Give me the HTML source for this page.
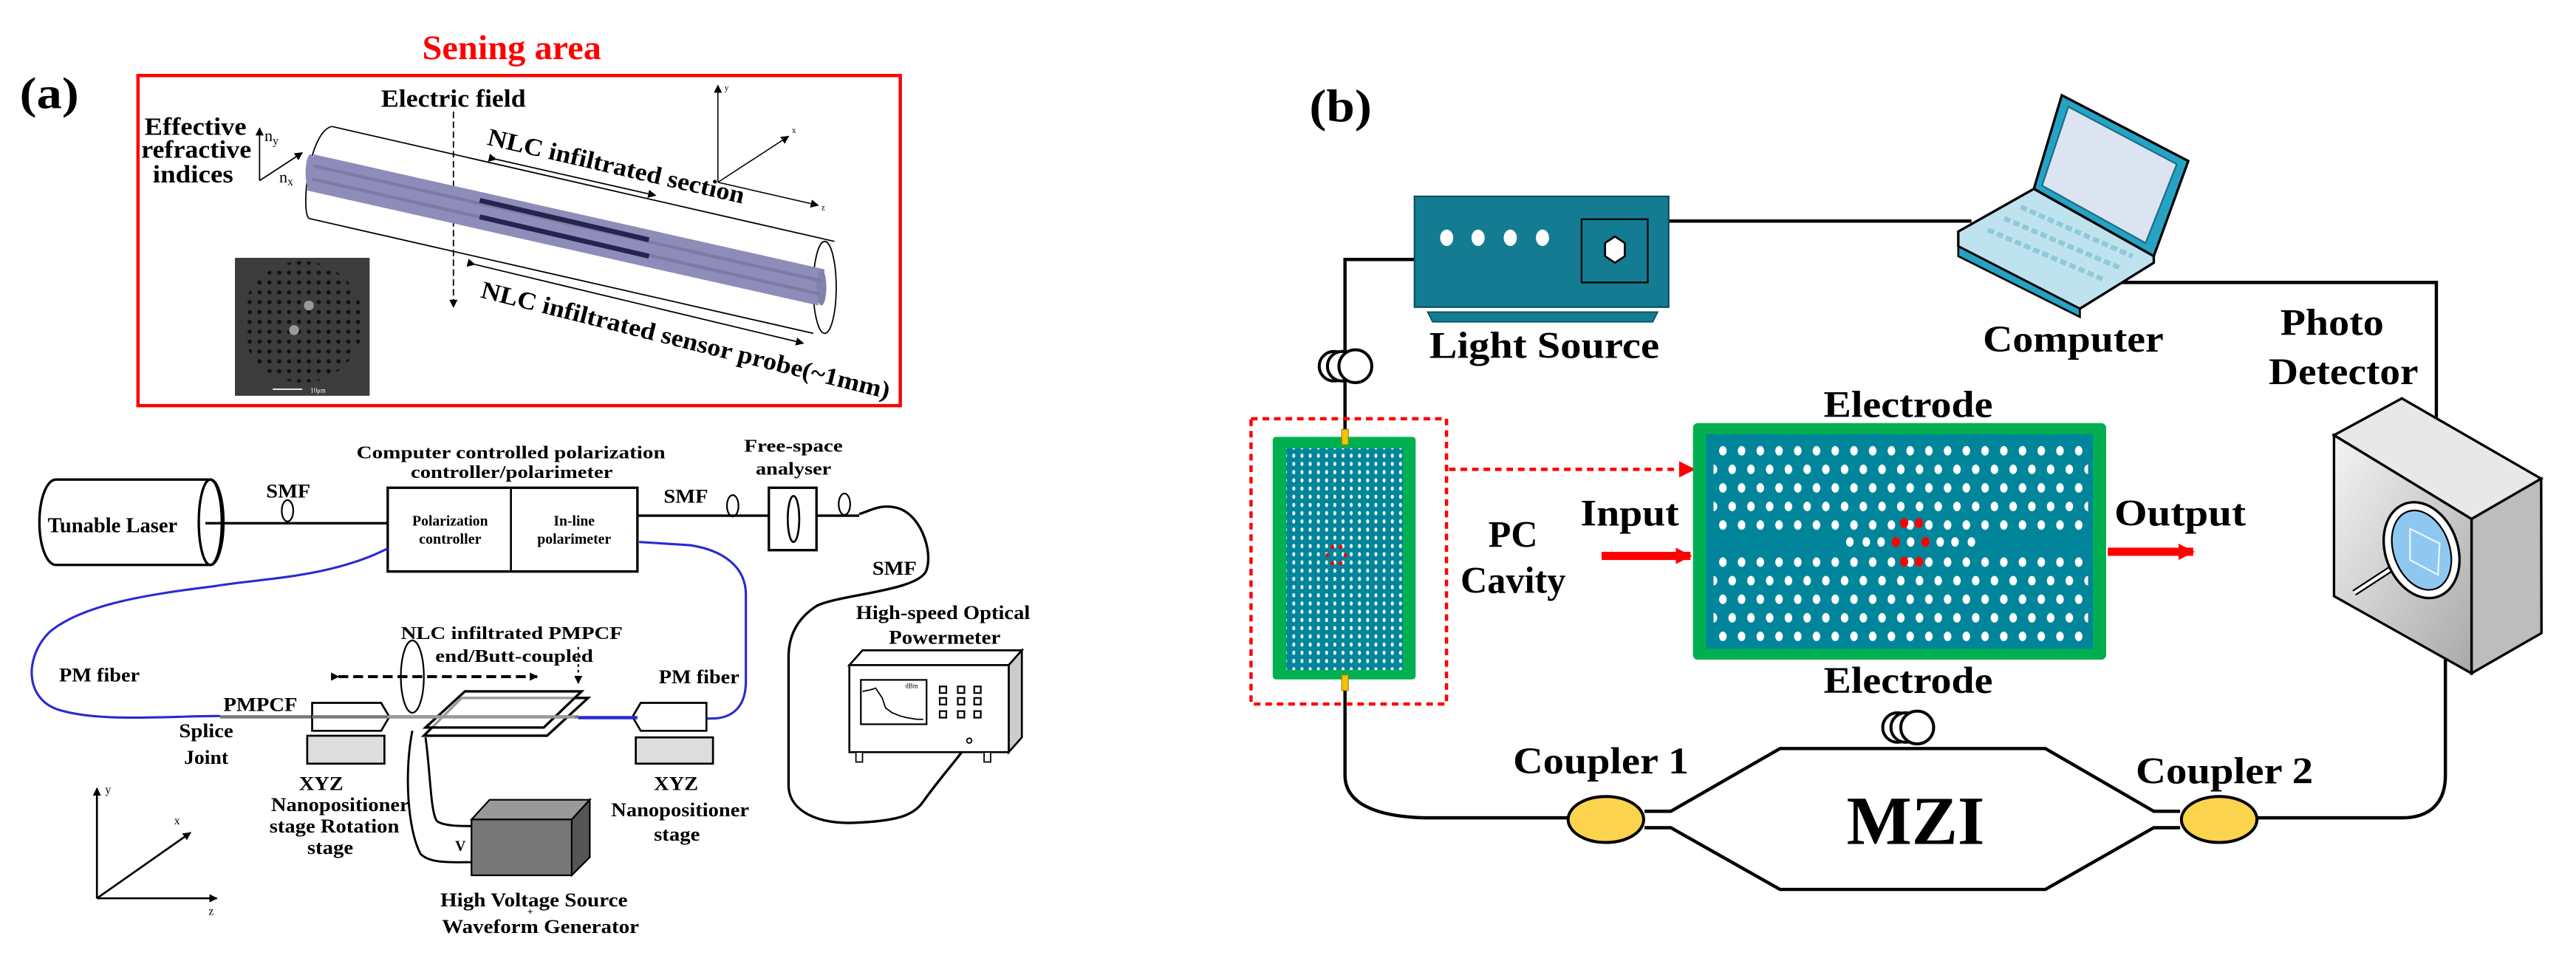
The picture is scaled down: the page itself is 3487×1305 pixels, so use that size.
<!DOCTYPE html>
<html><head><meta charset="utf-8"><style>
html,body{margin:0;padding:0;background:#fff;}
svg{display:block;}
text{font-family:"Liberation Serif",serif;font-weight:bold;fill:#000;}
</style></head><body>
<svg width="3487" height="1305" viewBox="0 0 1568 587" preserveAspectRatio="none" xmlns="http://www.w3.org/2000/svg">
<defs>
<marker id="ah" markerWidth="8" markerHeight="8" refX="7" refY="4" orient="auto" markerUnits="userSpaceOnUse"><path d="M0,0 L8,4 L0,8 z" fill="#000"/></marker>
<marker id="ahs" markerWidth="5" markerHeight="5" refX="4.5" refY="2.5" orient="auto" markerUnits="userSpaceOnUse"><path d="M0,0 L5,2.5 L0,5 z" fill="#000"/></marker>
<marker id="ahr" markerWidth="10" markerHeight="10" refX="9" refY="5" orient="auto" markerUnits="userSpaceOnUse"><path d="M0,0 L10,5 L0,10 z" fill="#f00"/></marker>
<pattern id="dots" x="1043" y="269" width="22.8" height="22.6" patternUnits="userSpaceOnUse">
<ellipse cx="5.7" cy="5.5" rx="2.3" ry="2.9" fill="#fff"/><ellipse cx="17.1" cy="5.5" rx="2.3" ry="2.9" fill="#fff"/>
<ellipse cx="11.4" cy="16.8" rx="2.3" ry="2.9" fill="#fff"/><ellipse cx="22.8" cy="16.8" rx="2.3" ry="2.9" fill="#fff"/><ellipse cx="0" cy="16.8" rx="2.3" ry="2.9" fill="#fff"/>
</pattern>
<pattern id="sdots" x="785" y="275" width="5" height="5" patternUnits="userSpaceOnUse">
<ellipse cx="2.5" cy="2.5" rx="0.9" ry="1.3" fill="#fff"/></pattern>
<pattern id="sem" x="143" y="157" width="6" height="6" patternUnits="userSpaceOnUse">
<circle cx="3" cy="3" r="1.3" fill="#111"/></pattern>
<linearGradient id="gbox" x1="0" y1="0" x2="1" y2="1"><stop offset="0" stop-color="#f4f4f4"/><stop offset="1" stop-color="#a9a9a9"/></linearGradient>
</defs>

<!-- ============ PANEL A ============ -->
<text x="12" y="66" font-size="27" textLength="36" lengthAdjust="spacingAndGlyphs">(a)</text>
<text x="257" y="36" font-size="21" fill="#f00" style="fill:#f00" textLength="109" lengthAdjust="spacingAndGlyphs">Sening area</text>
<rect x="84" y="46" width="464" height="201" fill="none" stroke="#f00" stroke-width="2"/>
<text x="232" y="65" font-size="15" textLength="88" lengthAdjust="spacingAndGlyphs">Electric field</text>
<line x1="276" y1="68" x2="276" y2="187" stroke="#000" stroke-width="0.8" stroke-dasharray="4,2" marker-end="url(#ahs)"/>
<text x="88" y="82" font-size="15" textLength="62" lengthAdjust="spacingAndGlyphs">Effective</text>
<text x="86" y="96" font-size="15" textLength="67" lengthAdjust="spacingAndGlyphs">refractive</text>
<text x="93" y="111" font-size="15" textLength="49" lengthAdjust="spacingAndGlyphs">indices</text>
<line x1="158" y1="110" x2="158" y2="78" stroke="#000" stroke-width="0.8" marker-end="url(#ahs)"/>
<line x1="158" y1="110" x2="184" y2="93" stroke="#000" stroke-width="0.8" marker-end="url(#ahs)"/>
<text x="161" y="86" font-size="10" style="font-weight:normal">n<tspan font-size="7" dy="2">y</tspan></text>
<text x="170" y="111" font-size="10" style="font-weight:normal">n<tspan font-size="7" dy="2">x</tspan></text>
<!-- cylinder -->
<line x1="202" y1="77" x2="508" y2="147" stroke="#000" stroke-width="0.8"/>
<line x1="188" y1="133" x2="495" y2="203" stroke="#000" stroke-width="0.8"/>
<path d="M202,77 C188,80 183,128 188,133" fill="none" stroke="#000" stroke-width="0.8"/>
<ellipse cx="502" cy="175" rx="7" ry="28" fill="none" stroke="#000" stroke-width="0.8"/>
<polygon points="191,94 502,164 498,186 187,116" fill="#8e8cb8"/>
<ellipse cx="189" cy="105" rx="3" ry="11" fill="#8e8cb8"/>
<ellipse cx="500" cy="175" rx="3" ry="11" fill="#8280ad"/>
<line x1="191" y1="101" x2="500" y2="171" stroke="#7d7ba6" stroke-width="2"/>
<line x1="190" y1="109" x2="499" y2="179" stroke="#7d7ba6" stroke-width="2"/>
<line x1="292" y1="122" x2="395" y2="146" stroke="#25234d" stroke-width="3"/>
<line x1="292" y1="132" x2="395" y2="156" stroke="#25234d" stroke-width="3"/>
<text x="296" y="88" font-size="15" transform="rotate(13 296 88)" textLength="160" lengthAdjust="spacingAndGlyphs">NLC infiltrated section</text>
<line x1="302" y1="97" x2="399" y2="119" stroke="#000" stroke-width="0.8" marker-start="url(#ahs)" marker-end="url(#ahs)"/>
<text x="292" y="181" font-size="15" transform="rotate(14 292 181)" textLength="256" lengthAdjust="spacingAndGlyphs">NLC infiltrated sensor probe(~1mm)</text>
<line x1="289" y1="161" x2="489" y2="209" stroke="#000" stroke-width="0.8" marker-start="url(#ahs)" marker-end="url(#ahs)"/>
<line x1="437" y1="111" x2="437" y2="52" stroke="#000" stroke-width="0.7" marker-end="url(#ahs)"/>
<line x1="437" y1="111" x2="498" y2="125" stroke="#000" stroke-width="0.7" marker-end="url(#ahs)"/>
<line x1="437" y1="111" x2="480" y2="83" stroke="#000" stroke-width="0.7" marker-end="url(#ahs)"/>
<text x="441" y="55" font-size="5" style="font-weight:normal">y</text>
<text x="482" y="81" font-size="5" style="font-weight:normal">x</text>
<text x="500" y="128" font-size="5" style="font-weight:normal">z</text>
<!-- SEM -->
<rect x="143" y="157" width="82" height="84" fill="#3c3c3c"/>
<circle cx="184" cy="196" r="37" fill="url(#sem)"/>
<circle cx="188" cy="186" r="3" fill="#999"/><circle cx="179" cy="201" r="3" fill="#999"/>
<line x1="166" y1="237" x2="184" y2="237" stroke="#fff" stroke-width="0.8"/>
<text x="189" y="239" font-size="4" style="fill:#fff;font-weight:normal">10μm</text>

<!-- lower (a) -->
<text x="217" y="279" font-size="11" textLength="188" lengthAdjust="spacingAndGlyphs">Computer controlled polarization</text>
<text x="250" y="291" font-size="11" textLength="123" lengthAdjust="spacingAndGlyphs">controller/polarimeter</text>
<text x="453" y="275" font-size="11" textLength="60" lengthAdjust="spacingAndGlyphs">Free-space</text>
<text x="460" y="289" font-size="11" textLength="46" lengthAdjust="spacingAndGlyphs">analyser</text>
<!-- laser -->
<path d="M34,292 L128,292 A8,26 0 0 1 128,344 L34,344 A10,26 0 0 1 34,292 Z" fill="#fff" stroke="#000" stroke-width="1.5"/>
<ellipse cx="128" cy="318" rx="7" ry="26" fill="none" stroke="#000" stroke-width="1.5"/>
<text x="29" y="324" font-size="13" textLength="79" lengthAdjust="spacingAndGlyphs">Tunable Laser</text>
<line x1="125" y1="318.6" x2="236" y2="318.6" stroke="#000" stroke-width="1.5"/>
<ellipse cx="175" cy="311" rx="3.5" ry="6.5" fill="none" stroke="#000" stroke-width="1"/>
<text x="162" y="303" font-size="12" textLength="27" lengthAdjust="spacingAndGlyphs">SMF</text>
<!-- pol box -->
<rect x="236" y="297" width="152" height="51" fill="#fff" stroke="#000" stroke-width="1.5"/>
<line x1="311" y1="297" x2="311" y2="348" stroke="#000" stroke-width="1.2"/>
<text x="251" y="320" font-size="9" textLength="46" lengthAdjust="spacingAndGlyphs">Polarization</text>
<text x="255" y="331" font-size="9" textLength="38" lengthAdjust="spacingAndGlyphs">controller</text>
<text x="337" y="320" font-size="9" textLength="25" lengthAdjust="spacingAndGlyphs">In-line</text>
<text x="327" y="331" font-size="9" textLength="45" lengthAdjust="spacingAndGlyphs">polarimeter</text>
<text x="404" y="306" font-size="12" textLength="27" lengthAdjust="spacingAndGlyphs">SMF</text>
<line x1="388" y1="314" x2="468" y2="314" stroke="#000" stroke-width="1.5"/>
<line x1="497" y1="314" x2="523" y2="314" stroke="#000" stroke-width="1.5"/>
<ellipse cx="446" cy="308" rx="3.5" ry="6.5" fill="none" stroke="#000" stroke-width="1"/>
<ellipse cx="514" cy="307" rx="3.5" ry="6.5" fill="none" stroke="#000" stroke-width="1"/>
<rect x="468" y="297" width="29" height="38" fill="#fff" stroke="#000" stroke-width="1.5"/>
<ellipse cx="483" cy="316" rx="3.5" ry="14" fill="none" stroke="#000" stroke-width="1.2"/>
<!-- black SMF curve -->
<path d="M523,313 C530,311 535,307 545,309 C560,312 568,335 564,347 C560,360 510,362 497,369 C483,378 480,390 480,400 L480,478 C480,495 500,502 520,501 C545,500 556,497 562,488 C575,470 585,460 590,451" fill="none" stroke="#000" stroke-width="1.5"/>
<text x="531" y="350" font-size="12" textLength="27" lengthAdjust="spacingAndGlyphs">SMF</text>
<!-- blue fibers -->
<path d="M236,334 C200,352 160,352 130,357 C90,362 50,368 30,385 C15,400 15,425 35,432 C60,440 100,436 134,436" fill="none" stroke="#2a2ad0" stroke-width="1.4"/>
<line x1="134" y1="436.5" x2="352" y2="436.5" stroke="#777" stroke-width="2"/>
<path d="M352,437 L432,437.5 C448,438 454,428 454,415 L454,362 C454,345 440,335 420,332 L389,330" fill="none" stroke="#2a2ad0" stroke-width="1.4"/>
<text x="36" y="415" font-size="12" textLength="49" lengthAdjust="spacingAndGlyphs">PM fiber</text>
<text x="401" y="416" font-size="12" textLength="49" lengthAdjust="spacingAndGlyphs">PM fiber</text>
<text x="244" y="389" font-size="11" textLength="135" lengthAdjust="spacingAndGlyphs">NLC infiltrated PMPCF</text>
<text x="265" y="403" font-size="11" textLength="96" lengthAdjust="spacingAndGlyphs">end/Butt-coupled</text>
<line x1="352" y1="394" x2="352" y2="416" stroke="#000" stroke-width="1" stroke-dasharray="1.5,2" marker-end="url(#ahs)"/>
<line x1="206" y1="412" x2="327" y2="412" stroke="#000" stroke-width="1.8" stroke-dasharray="6,3" marker-start="url(#ahs)" marker-end="url(#ahs)"/>
<ellipse cx="251" cy="412" rx="7" ry="22" fill="none" stroke="#000" stroke-width="1"/>
<text x="136" y="433" font-size="12" textLength="45" lengthAdjust="spacingAndGlyphs">PMPCF</text>
<text x="109" y="449" font-size="12" textLength="33" lengthAdjust="spacingAndGlyphs">Splice</text>
<text x="112" y="465" font-size="12" textLength="27" lengthAdjust="spacingAndGlyphs">Joint</text>
<!-- holders -->
<polygon points="190,428 232,428 237,436.5 232,445 190,445" fill="#fff" stroke="#000" stroke-width="1.2"/>
<rect x="187" y="448" width="47" height="17" fill="#ddd" stroke="#000" stroke-width="1.2"/>
<polygon points="430,428 390,428 385,436.5 390,445 430,445" fill="#fff" stroke="#000" stroke-width="1.2"/>
<rect x="387" y="449" width="47" height="16" fill="#ddd" stroke="#000" stroke-width="1.2"/>
<line x1="190" y1="436.5" x2="236" y2="436.5" stroke="#777" stroke-width="2"/>
<line x1="352" y1="437" x2="388" y2="437" stroke="#2a2ad0" stroke-width="2"/>
<!-- slides -->
<polygon points="281,425 358,425 333,448 258,448" fill="none" stroke="#000" stroke-width="1.5"/>
<polygon points="283,421 354,421 331,443 259,443" fill="#fff" fill-opacity="0.6" stroke="#000" stroke-width="1.5"/>
<line x1="236" y1="436.5" x2="350" y2="436.5" stroke="#999" stroke-width="2"/>
<!-- wires & HV -->
<path d="M259,449 C262,470 262,495 266,500 C270,503 280,503 287,503" fill="none" stroke="#000" stroke-width="1.3"/>
<path d="M251,445 C246,470 248,505 256,520 C262,526 275,525 287,525" fill="none" stroke="#000" stroke-width="1.3"/>
<text x="277" y="518" font-size="9">V</text>
<polygon points="287,499 298,487 359,487 348,499" fill="#999" stroke="#000" stroke-width="1"/>
<polygon points="348,499 359,487 359,522 348,533" fill="#555" stroke="#000" stroke-width="1"/>
<rect x="287" y="499" width="61" height="34" fill="#777" stroke="#000" stroke-width="1"/>
<text x="182" y="481" font-size="12" textLength="27" lengthAdjust="spacingAndGlyphs">XYZ</text>
<text x="165" y="494" font-size="12" textLength="84" lengthAdjust="spacingAndGlyphs">Nanopositioner</text>
<text x="164" y="507" font-size="12" textLength="79" lengthAdjust="spacingAndGlyphs">stage Rotation</text>
<text x="187" y="520" font-size="12" textLength="28" lengthAdjust="spacingAndGlyphs">stage</text>
<text x="398" y="481" font-size="12" textLength="27" lengthAdjust="spacingAndGlyphs">XYZ</text>
<text x="372" y="497" font-size="12" textLength="84" lengthAdjust="spacingAndGlyphs">Nanopositioner</text>
<text x="398" y="512" font-size="12" textLength="28" lengthAdjust="spacingAndGlyphs">stage</text>
<text x="268" y="552" font-size="12" textLength="114" lengthAdjust="spacingAndGlyphs">High Voltage Source</text>
<text x="321" y="557" font-size="6">+</text>
<text x="269" y="568" font-size="12" textLength="120" lengthAdjust="spacingAndGlyphs">Waveform Generator</text>
<!-- powermeter -->
<text x="521" y="377" font-size="12" textLength="106" lengthAdjust="spacingAndGlyphs">High-speed Optical</text>
<text x="541" y="392" font-size="12" textLength="68" lengthAdjust="spacingAndGlyphs">Powermeter</text>
<polygon points="517,405 525,396 622,396 614,405" fill="#fff" stroke="#000" stroke-width="1.2"/>
<polygon points="614,405 622,396 622,449 614,458" fill="#ccc" stroke="#000" stroke-width="1.2"/>
<rect x="517" y="405" width="97" height="53" fill="#fff" stroke="#000" stroke-width="1.2"/>
<rect x="521" y="458" width="4" height="6" fill="#fff" stroke="#000" stroke-width="0.8"/>
<rect x="599" y="458" width="4" height="6" fill="#fff" stroke="#000" stroke-width="0.8"/>
<rect x="524" y="414" width="40" height="27" fill="#fff" stroke="#000" stroke-width="1"/>
<path d="M525,421 L530,420 L533,419 L535,422 L537,425 L539,431 L543,434 L548,436 L552,437 L558,438 L562,438" fill="none" stroke="#000" stroke-width="0.8"/>
<text x="551" y="419" font-size="4" style="font-weight:normal">dBm</text>
<g fill="none" stroke="#000" stroke-width="1">
<rect x="572" y="418" width="4" height="4"/><rect x="583" y="418" width="4" height="4"/><rect x="593" y="418" width="4" height="4"/>
<rect x="572" y="425" width="4" height="4"/><rect x="583" y="425" width="4" height="4"/><rect x="593" y="425" width="4" height="4"/>
<rect x="572" y="433" width="4" height="4"/><rect x="583" y="433" width="4" height="4"/><rect x="593" y="433" width="4" height="4"/>
</g>
<circle cx="590" cy="451" r="1.5" fill="none" stroke="#000" stroke-width="0.8"/>
<!-- axes bl -->
<line x1="59" y1="547" x2="59" y2="480" stroke="#000" stroke-width="1.2" marker-end="url(#ahs)"/>
<line x1="59" y1="547" x2="132" y2="547" stroke="#000" stroke-width="1.2" marker-end="url(#ahs)"/>
<line x1="59" y1="547" x2="116" y2="507" stroke="#000" stroke-width="1.2" marker-end="url(#ahs)"/>
<text x="64" y="483" font-size="7" style="font-weight:normal">y</text>
<text x="106" y="502" font-size="7" style="font-weight:normal">x</text>
<text x="127" y="557" font-size="7" style="font-weight:normal">z</text>

<!-- ============ PANEL B ============ -->
<text x="797" y="74" font-size="28" textLength="38" lengthAdjust="spacingAndGlyphs">(b)</text>
<!-- wires -->
<path d="M861,158 L818.7,158 L818.7,472 C818.7,488 835,498 871.6,498 L954,498" fill="none" stroke="#000" stroke-width="2"/>
<line x1="1015" y1="134.6" x2="1200" y2="134.6" stroke="#000" stroke-width="2"/>
<path d="M1290,172 L1483,172 L1483,260" fill="none" stroke="#000" stroke-width="2"/>
<path d="M1488.5,400 L1488.5,472 C1488.5,490 1478,498 1462,498 L1374,498" fill="none" stroke="#000" stroke-width="2"/>
<!-- light source -->
<rect x="861" y="119.6" width="154.7" height="67.4" fill="#137c92" stroke="#0b4f5e" stroke-width="1"/>
<polygon points="869,190 1009,190 1006,196 872,196" fill="#137c92" stroke="#0b4f5e" stroke-width="0.8"/>
<ellipse cx="880.6" cy="144.8" rx="4" ry="5" fill="#fff"/><ellipse cx="899.7" cy="144.8" rx="4" ry="5" fill="#fff"/>
<ellipse cx="919.3" cy="144.8" rx="4" ry="5" fill="#fff"/><ellipse cx="938.9" cy="144.8" rx="4" ry="5" fill="#fff"/>
<rect x="962.7" y="133.5" width="40.3" height="38.5" fill="none" stroke="#000" stroke-width="1"/>
<polygon points="983,144 989,148 989,156 983,160 977,156 977,148" fill="#fff" stroke="#000" stroke-width="1.2"/>
<text x="870" y="218" font-size="23" textLength="140" lengthAdjust="spacingAndGlyphs">Light Source</text>
<!-- coil left -->
<circle cx="812" cy="223" r="9" fill="#fff" stroke="#000" stroke-width="1.8"/>
<circle cx="817" cy="223" r="9" fill="#fff" stroke="#000" stroke-width="1.8"/>
<circle cx="825" cy="223" r="10" fill="#fff" stroke="#000" stroke-width="1.8"/>
<!-- laptop -->
<polygon points="1255,58 1332,98 1311,156 1238,115" fill="#26a3c4" stroke="#000" stroke-width="1.5"/>
<polygon points="1259,65 1325,100 1306,148 1243,113" fill="#dbe4f0" stroke="#1b6f86" stroke-width="1"/>
<polygon points="1192,141 1238,115 1311,156 1311,160 1266,188 1192,150" fill="#bfe3ee" stroke="#000" stroke-width="1.5"/>
<polygon points="1192,150 1266,188 1266,193 1192,156" fill="#26a3c4" stroke="#000" stroke-width="1.2"/>
<g stroke="#8fc9da" stroke-width="3" stroke-dasharray="4,2">
<line x1="1210" y1="140" x2="1280" y2="170"/><line x1="1220" y1="133" x2="1290" y2="163"/><line x1="1230" y1="126" x2="1298" y2="156"/>
</g>
<text x="1207" y="214" font-size="23" textLength="110" lengthAdjust="spacingAndGlyphs">Computer</text>
<text x="1388" y="204" font-size="23" textLength="63" lengthAdjust="spacingAndGlyphs">Photo</text>
<text x="1381" y="234" font-size="23" textLength="91" lengthAdjust="spacingAndGlyphs">Detector</text>
<!-- detector -->
<polygon points="1420.7,265 1462,242.6 1546.8,291.5 1504.4,316" fill="#e8e8e8" stroke="#000" stroke-width="1.5"/>
<polygon points="1504.4,316 1546.8,291.5 1547,385.5 1504.4,410" fill="#bdbdbd" stroke="#000" stroke-width="1.5"/>
<polygon points="1420.7,265 1504.4,316 1504.4,410 1420.7,363" fill="url(#gbox)" stroke="#000" stroke-width="1.5"/>
<line x1="1433" y1="361" x2="1456" y2="346" stroke="#000" stroke-width="4"/>
<line x1="1433" y1="361" x2="1456" y2="346" stroke="#fff" stroke-width="2"/>
<ellipse cx="1474" cy="335" rx="22" ry="30" transform="rotate(-20 1474 335)" fill="#fff" stroke="#000" stroke-width="1.5"/>
<ellipse cx="1474" cy="335" rx="17" ry="25" transform="rotate(-20 1474 335)" fill="#8ec8f0" stroke="#000" stroke-width="1"/>
<polygon points="1467,322 1485,331 1484,350 1467,341" fill="none" stroke="#e8f6ff" stroke-width="1"/>
<!-- red dashed box & chip -->
<rect x="761.5" y="255" width="119" height="173.7" fill="none" stroke="#f00" stroke-width="2" stroke-dasharray="4,3"/>
<rect x="774.7" y="266" width="87" height="147.7" rx="2" fill="#00b050"/>
<rect x="783" y="273" width="71" height="135" fill="#00859a"/>
<rect x="783" y="273" width="71" height="135" fill="url(#sdots)"/>
<g fill="#f00"><circle cx="811" cy="333" r="1.2"/><circle cx="816" cy="333" r="1.2"/><circle cx="808" cy="338" r="1.2"/><circle cx="819" cy="338" r="1.2"/><circle cx="811" cy="343" r="1.2"/><circle cx="816" cy="343" r="1.2"/></g>
<rect x="816.7" y="261.4" width="4" height="9.4" fill="#f5c400" stroke="#a07800" stroke-width="0.5"/>
<rect x="816.7" y="411" width="4" height="9.5" fill="#f5c400" stroke="#a07800" stroke-width="0.5"/>
<line x1="882" y1="285.8" x2="1031" y2="285.8" stroke="#f00" stroke-width="2" stroke-dasharray="4,3" marker-end="url(#ahr)"/>
<text x="906" y="333" font-size="23" textLength="30" lengthAdjust="spacingAndGlyphs">PC</text>
<text x="889" y="361" font-size="23" textLength="64" lengthAdjust="spacingAndGlyphs">Cavity</text>
<text x="962" y="320" font-size="23" textLength="60" lengthAdjust="spacingAndGlyphs">Input</text>
<line x1="974.9" y1="338.5" x2="1029" y2="338.5" stroke="#f00" stroke-width="5" marker-end="url(#ahr)"/>
<!-- big chip -->
<rect x="1030.5" y="257.6" width="251.5" height="144.1" rx="3" fill="#00b050"/>
<rect x="1038.4" y="264.4" width="235.6" height="130.6" fill="#00859a"/>
<rect x="1043" y="269" width="228" height="124" fill="url(#dots)"/>
<rect x="1041" y="325" width="231" height="10" fill="#00859a"/>
<g fill="#fff"><ellipse cx="1126" cy="330" rx="2.3" ry="2.9"/><ellipse cx="1136" cy="330" rx="2.3" ry="2.9"/><ellipse cx="1145" cy="330" rx="2.3" ry="2.9"/><ellipse cx="1163" cy="330" rx="2.3" ry="2.9"/><ellipse cx="1181" cy="330" rx="2.3" ry="2.9"/><ellipse cx="1190" cy="330" rx="2.3" ry="2.9"/><ellipse cx="1200" cy="330" rx="2.3" ry="2.9"/></g>
<g fill="#f00"><ellipse cx="1154" cy="330" rx="2.5" ry="3"/><ellipse cx="1172" cy="330" rx="2.5" ry="3"/><ellipse cx="1159" cy="318.5" rx="2.5" ry="3"/><ellipse cx="1168" cy="318.5" rx="2.5" ry="3"/><ellipse cx="1159" cy="342" rx="2.5" ry="3"/><ellipse cx="1168" cy="342" rx="2.5" ry="3"/></g>
<text x="1110" y="254" font-size="23" textLength="103" lengthAdjust="spacingAndGlyphs">Electrode</text>
<text x="1110" y="422" font-size="23" textLength="103" lengthAdjust="spacingAndGlyphs">Electrode</text>
<text x="1287" y="320" font-size="23" textLength="80" lengthAdjust="spacingAndGlyphs">Output</text>
<line x1="1283" y1="336" x2="1335" y2="336" stroke="#f00" stroke-width="5" marker-end="url(#ahr)"/>
<!-- MZI -->
<g fill="none" stroke="#000" stroke-width="2">
<path d="M1001,494 L1017,494 L1083.5,455.8 L1245,455.8 L1311,494 L1327,494"/>
<path d="M1001,504 L1017,504 L1083.5,541.6 L1245,541.6 L1311,504 L1327,504"/>
</g>
<circle cx="1155" cy="443" r="9" fill="#fff" stroke="#000" stroke-width="1.8"/>
<circle cx="1160" cy="443" r="9" fill="#fff" stroke="#000" stroke-width="1.8"/>
<circle cx="1167" cy="443" r="10" fill="#fff" stroke="#000" stroke-width="1.8"/>
<ellipse cx="977.5" cy="499" rx="23" ry="14" fill="#fcd34d" stroke="#000" stroke-width="1.8"/>
<ellipse cx="1350.8" cy="499" rx="23" ry="14" fill="#fcd34d" stroke="#000" stroke-width="1.8"/>
<text x="1124" y="514" font-size="42" textLength="84" lengthAdjust="spacingAndGlyphs">MZI</text>
<text x="921" y="471" font-size="23" textLength="107" lengthAdjust="spacingAndGlyphs">Coupler 1</text>
<text x="1300" y="477" font-size="23" textLength="108" lengthAdjust="spacingAndGlyphs">Coupler 2</text>
</svg>
</body></html>
